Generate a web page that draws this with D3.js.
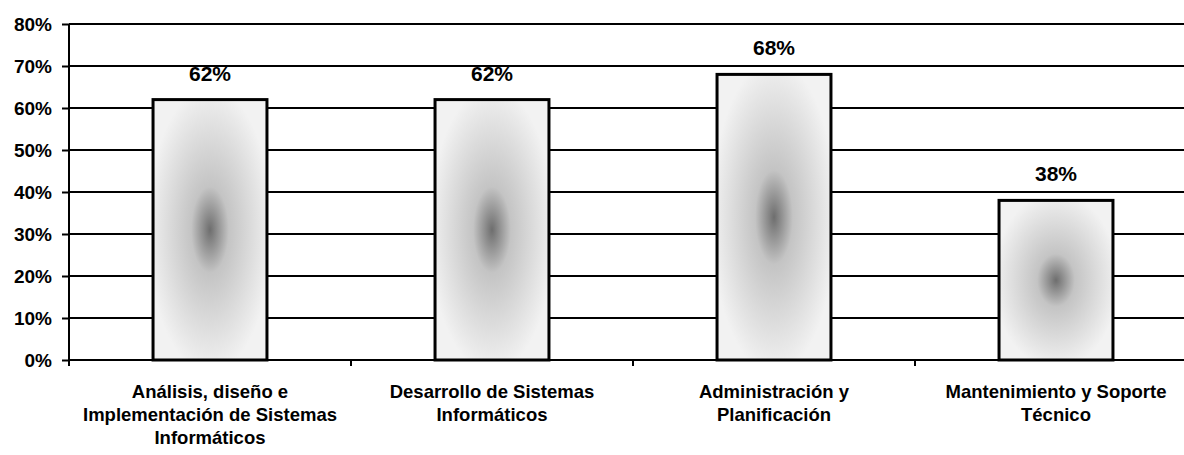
<!DOCTYPE html>
<html><head><meta charset="utf-8">
<script src="https://cdn.jsdelivr.net/npm/d3@7/dist/d3.min.js"></script>
<style>body{margin:0;background:#fff}svg{display:block}</style>
</head><body>
<svg id="c" width="1184" height="455"></svg>
<script>
const categories = [
  ["Análisis, diseño e", "Implementación de Sistemas", "Informáticos"],
  ["Desarrollo de Sistemas", "Informáticos"],
  ["Administración y", "Planificación"],
  ["Mantenimiento y Soporte", "Técnico"]
];
const values = [0.62, 0.62, 0.68, 0.38];
const valueLabels = ["62%", "62%", "68%", "38%"];
const yTicks = [0, 0.1, 0.2, 0.3, 0.4, 0.5, 0.6, 0.7, 0.8];

const svg = d3.select("#c");
const font = "'Liberation Sans', Arial, sans-serif";
const mLeft = 69, mTop = 24, mBottom = 360, step = 282;
const x = d3.scaleBand().domain(d3.range(categories.length))
  .range([mLeft, mLeft + step * categories.length]).paddingInner(0.596).paddingOuter(0.298);
const y = d3.scaleLinear().domain([0, 0.8]).range([mBottom, mTop]);

const defs = svg.append("defs");
const rg = defs.append("radialGradient").attr("id", "g").attr("cx", "0.5").attr("cy", "0.5").attr("r", "0.55");
rg.append("stop").attr("offset", "0").attr("stop-color", "#6e6e6e");
rg.append("stop").attr("offset", "0.3").attr("stop-color", "#c4c4c4");
rg.append("stop").attr("offset", "1").attr("stop-color", "#f2f2f2");

// gridlines
svg.append("g").selectAll("line").data(yTicks.slice(1)).join("line")
  .attr("x1", mLeft).attr("x2", 1184).attr("y1", d => y(d)).attr("y2", d => y(d))
  .attr("stroke", "#000").attr("stroke-width", 2);

// y axis
const ya = svg.append("g").attr("transform", `translate(${mLeft},0)`)
  .call(d3.axisLeft(y).tickValues(yTicks).tickFormat(d3.format(".0%")).tickSize(7).tickPadding(10));
ya.select(".domain").attr("stroke-width", 2).attr("d", `M0,${mTop}V${mBottom + 4}`);
ya.selectAll(".tick line").attr("stroke-width", 2);
ya.selectAll("text").attr("font-family", font).attr("font-weight", "bold").attr("font-size", 19).attr("fill", "#000");

// bars
svg.append("g").selectAll("rect").data(values).join("rect")
  .attr("x", (d, i) => x(i)).attr("y", d => y(d))
  .attr("width", x.bandwidth()).attr("height", d => mBottom - y(d))
  .attr("fill", "url(#g)").attr("stroke", "#000").attr("stroke-width", 3);

// x axis
const xa = svg.append("g").attr("transform", `translate(0,${mBottom})`);
xa.append("line").attr("x1", mLeft).attr("x2", 1184).attr("stroke", "#000").attr("stroke-width", 2);
xa.selectAll("line.t").data(d3.range(categories.length + 1)).join("line").attr("class", "t")
  .attr("x1", i => mLeft + i * step).attr("x2", i => mLeft + i * step).attr("y1", 0).attr("y2", 6)
  .attr("stroke", "#000").attr("stroke-width", 2);

// value labels
svg.append("g").selectAll("text").data(values).join("text")
  .attr("x", (d, i) => x(i) + x.bandwidth() / 2).attr("y", d => y(d) - 19)
  .attr("text-anchor", "middle").attr("font-family", font).attr("font-weight", "bold").attr("font-size", 21)
  .text((d, i) => valueLabels[i]);

// category labels
const cl = svg.append("g").selectAll("text").data(categories).join("text")
  .attr("x", (d, i) => x(i) + x.bandwidth() / 2).attr("y", 398)
  .attr("text-anchor", "middle").attr("font-family", font).attr("font-weight", "bold").attr("font-size", 18.5);
cl.each(function(d, i) {
  const t = d3.select(this);
  d.forEach((line, j) => t.append("tspan").attr("x", x(i) + x.bandwidth() / 2).attr("dy", j ? 23 : 0).text(line));
});
</script>
</body></html>
